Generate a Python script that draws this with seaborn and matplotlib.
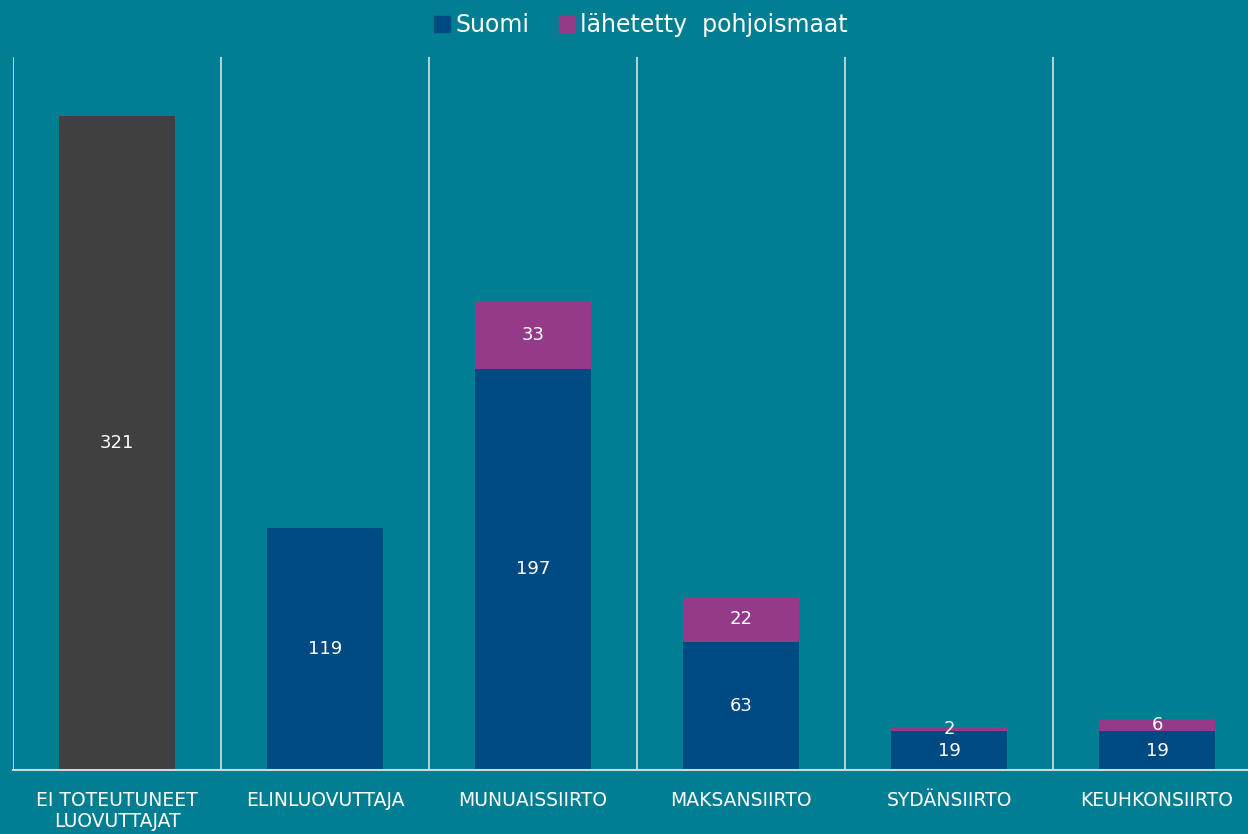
import seaborn as sns
import matplotlib.pyplot as plt
import pandas as pd
from matplotlib.lines import Line2D

# Dane
kategoriat = ["EI TOTEUTUNEET\nLUOVUTTAJAT", "ELINLUOVUTTAJA", "MUNUAISSIIRTO",
              "MAKSANSIIRTO", "SYDÄNSIIRTO", "KEUHKONSIIRTO"]
suomi = [321, 119, 197, 63, 19, 19]
pohjoismaat = [0, 0, 33, 22, 2, 6]

TAUSTA = "#017e92"
HARMAA = "#404040"
SININEN = "#004a83"
VIOLETTI = "#953a88"
VIIVA = "#c9dadd"

sns.set_style("white")
plt.rcParams["font.family"] = ["DejaVu Sans"]

df = pd.DataFrame({"kategoria": kategoriat, "Suomi": suomi, "pohjoismaat": pohjoismaat})
df["yhteensa"] = df["Suomi"] + df["pohjoismaat"]

fig = plt.figure(figsize=(12.48, 8.34), dpi=100, facecolor=TAUSTA)
ax = fig.add_axes([13 / 1248, 64 / 834, 1248 / 1248, 713 / 834])
ax.set_facecolor(TAUSTA)

# Pinotut palkit: ensin kokonaissumma violettina, sitten Suomi päälle
sns.barplot(data=df, x="kategoria", y="yhteensa", color=VIOLETTI, width=0.56,
            saturation=1, linewidth=0, ax=ax)
varit = [HARMAA] + [SININEN] * (len(kategoriat) - 1)
sns.barplot(data=df, x="kategoria", y="Suomi", hue="kategoria", palette=varit,
            width=0.56, saturation=1, linewidth=0, legend=False, ax=ax)

# Arvot palkkien sisään
for i, (s, p) in enumerate(zip(suomi, pohjoismaat)):
    ax.text(i, s / 2, str(s), ha="center", va="center", color="white", fontsize=13)
    if p > 0:
        ax.text(i, s + p / 2, str(p), ha="center", va="center", color="white", fontsize=13)

ax.set_ylim(0, 350)
ax.set_xlim(-0.5, len(kategoriat) - 0.5)
ax.set_yticks([])
ax.set_xlabel("")
ax.set_ylabel("")

# Pystyviivat kategorioiden väliin
for x in range(len(kategoriat) + 1):
    ax.axvline(x - 0.5, color=VIIVA, lw=1.3, zorder=0)

for side in ["top", "right", "left"]:
    ax.spines[side].set_visible(False)
ax.spines["bottom"].set_color(VIIVA)
ax.spines["bottom"].set_linewidth(1.5)
ax.tick_params(axis="x", length=0, pad=15, colors="white", labelsize=13.5)
for lbl in ax.get_xticklabels():
    lbl.set_linespacing(1.15)

# Selite
kahvat = [
    Line2D([], [], marker="s", linestyle="", color=SININEN, markersize=11),
    Line2D([], [], marker="s", linestyle="", color=VIOLETTI, markersize=11),
]
fig.legend(kahvat, ["Suomi", "lähetetty  pohjoismaat"], loc="upper center",
           bbox_to_anchor=(0.513, 1.01), ncol=2, frameon=False, fontsize=17,
           labelcolor="white", handletextpad=0.15, columnspacing=1.2,
           handlelength=0.8)

fig.savefig("out.png", dpi=100, facecolor=TAUSTA)
